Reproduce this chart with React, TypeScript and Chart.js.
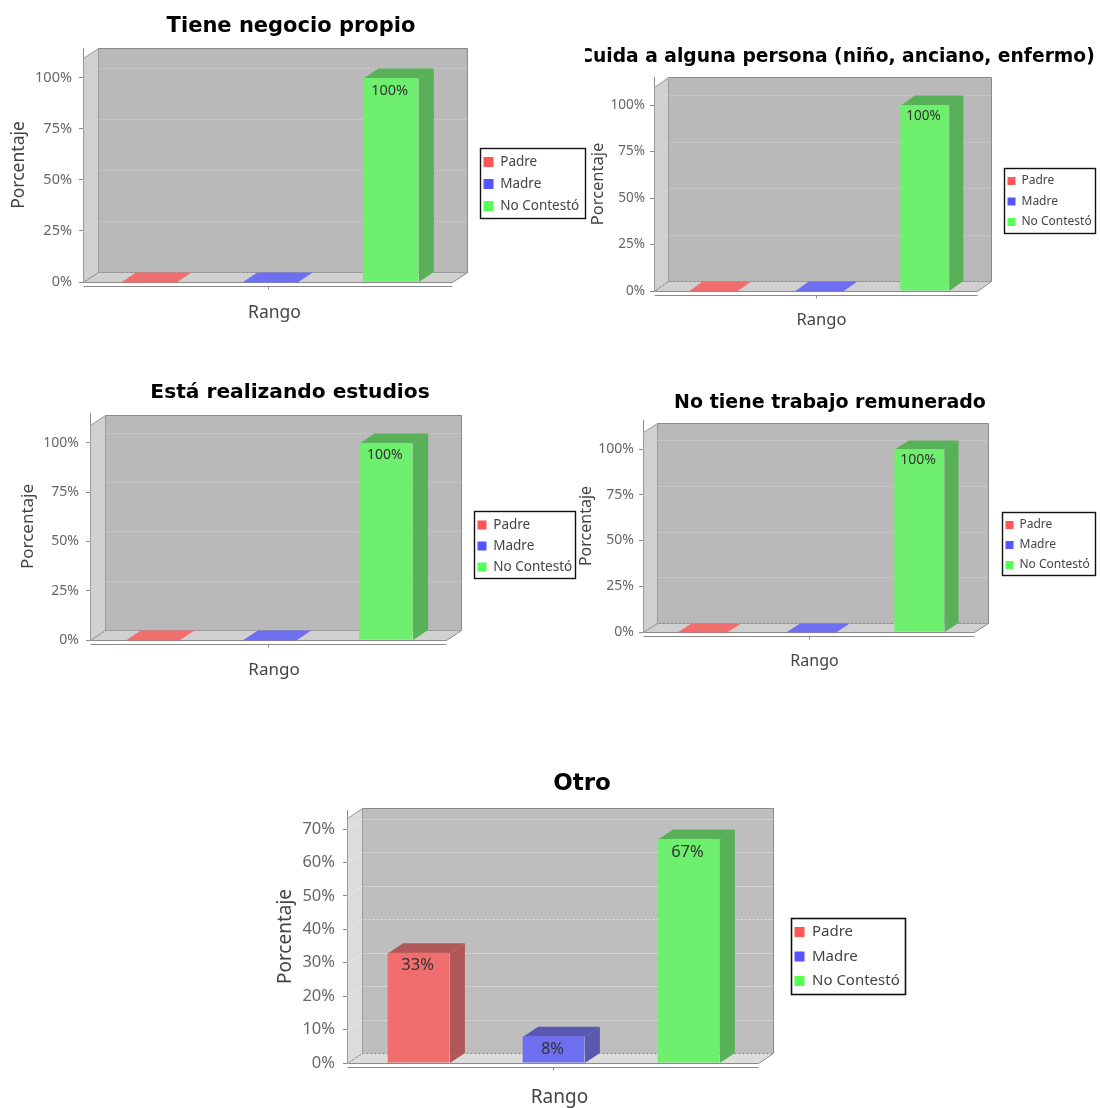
import React, { useEffect, useRef } from "react";
import { Chart, registerables } from "chart.js";

Chart.register(...registerables);

const categories = ["Rango"];
const chartTitles = [
  "Tiene negocio propio",
  "Cuida a alguna persona (niño, anciano, enfermo)",
  "Está realizando estudios",
  "No tiene trabajo remunerado",
  "Otro",
];
const seriesNames = ["Padre", "Madre", "No Contestó"];
const padreValues = [0, 0, 0, 0, 33];
const madreValues = [0, 0, 0, 0, 8];
const noContestoValues = [100, 100, 100, 100, 67];
const yMaxima = [109.8, 109.7, 109.1, 109.3, 73.3];
const yTickSteps = [25, 25, 25, 25, 10];

const barFaceColors = ["#F06E6E", "#6E6EF0", "#6EF06E"];
const barSideColors = ["#B05858", "#5858B0", "#58B058"];
const barTopColors = ["#B05858", "#5858B0", "#58B058"];
const legendColors = ["#FF5555", "#5555FF", "#55FF55"];

const FONT = "'Noto Sans', sans-serif";
const TITLE_FONT = "'DejaVu Sans', sans-serif";

const panels = [
  { cx: -5, cy: 0, cw: 592, ch: 340, clip: 0, L: 83, R: 452, top: 58, y0: 282, dx: 15, dy: 10, titleY: 27, titleSize: 21, labelX: 19, labelSize: 17.5, rangoY: 313, tick: 14.5, tickPad: 7, labelDrop: 13, barShift: 2, grid: 0.3, wall: "#B9B9B9", side: "#D0D0D0", legend: { x: 480.5, y: 148.5, w: 105, h: 70, row0: 162, gap: 22, font: 13.5, box: 10, lw: 1.4 }, shiftX: 7, shiftY: -5, blur: 0.6 },
  { cx: 574, cy: 0, cw: 526, ch: 340, clip: 11, L: 654, R: 977, top: 87, y0: 291, dx: 14, dy: 10, titleY: 57, titleSize: 18.7, labelX: 598, labelSize: 16.5, rangoY: 320, tick: 13.5, tickPad: 5, labelDrop: 11, barShift: 3, grid: 0.3, wall: "#B9B9B9", side: "#D0D0D0", legend: { x: 1004.5, y: 168.5, w: 91, h: 65, row0: 181, gap: 20.5, font: 12, box: 8, lw: 1.4 }, shiftX: 6, shiftY: -5, blur: 0.6 },
  { cx: 0, cy: 360, cw: 580, ch: 330, clip: 0, L: 90, R: 446, top: 425, y0: 640, dx: 15, dy: 10, titleY: 393, titleSize: 20.2, labelX: 28, labelSize: 17, rangoY: 670, tick: 14, tickPad: 7, labelDrop: 12, barShift: 1, grid: 0.3, wall: "#B9B9B9", side: "#D0D0D0", legend: { x: 474.5, y: 511.5, w: 101, h: 67, row0: 525, gap: 21, font: 13.5, box: 9, lw: 1.4 }, shiftX: 6, shiftY: -6, blur: 0.6 },
  { cx: 562, cy: 370, cw: 536, ch: 310, clip: 0, L: 643, R: 974, top: 432, y0: 632, dx: 14, dy: 9, titleY: 403, titleSize: 19, labelX: 586, labelSize: 16, rangoY: 661, tick: 14, tickPad: 5, labelDrop: 11, barShift: 2, grid: 0.3, wall: "#B9B9B9", side: "#D0D0D0", legend: { x: 1002.5, y: 512.5, w: 93, h: 63, row0: 525, gap: 20, font: 12, box: 8, lw: 1.4 }, shiftX: 6, shiftY: -6, blur: 0.6 },
  { cx: 250, cy: 750, cw: 664, ch: 358, clip: 0, L: 347, R: 758, top: 818, y0: 1063, dx: 15, dy: 10, titleY: 784, titleSize: 23, labelX: 286, labelSize: 19, rangoY: 1098, tick: 16.5, tickPad: 8, labelDrop: 13, barShift: 1, grid: 0.65, wall: "#BEBEBE", side: "#DCDCDC", legend: { x: 791.5, y: 918.5, w: 114, h: 76, row0: 932, gap: 24.5, font: 15, box: 10, lw: 1.6 }, shiftX: 7, shiftY: -4, blur: 0.35 },
];

type Panel = (typeof panels)[number];

const polygon = (ctx: CanvasRenderingContext2D, pts: number[][], fill: string | null, stroke: string | null) => {
  ctx.beginPath();
  pts.forEach(([x, y], i) => (i ? ctx.lineTo(x, y) : ctx.moveTo(x, y)));
  ctx.closePath();
  if (fill) {
    ctx.fillStyle = fill;
    ctx.fill();
  }
  if (stroke) {
    ctx.strokeStyle = stroke;
    ctx.lineWidth = 1;
    ctx.stroke();
  }
};

const makeScenePlugin = (p: Panel) => ({
  id: "scene3d",
  afterLayout(chart: any) {
    const lg = chart.legend;
    const f = p.legend;
    const pad = lg.options.labels.padding;
    const w = lg.width;
    const h = lg.height;
    lg.left = f.x - p.cx + 3 - pad;
    lg.right = lg.left + w;
    lg.top = f.row0 - p.cy - f.font / 2 - pad;
    lg.bottom = lg.top + h;
    const { x, y } = chart.scales;
    x.right += p.shiftX * 2;
    y.top += p.shiftY * 2;
    x._startPixel += p.barShift;
    // the title is centred on the whole canvas, not on the plot
    chart.titleBlock.left = 0;
    chart.titleBlock.right = p.cw;
  },
  beforeDatasetsDraw(chart: any) {
    const { ctx, chartArea: a, scales } = chart;
    const { dx, dy } = p;
    const bottomBack = a.bottom - dy;
    const topBack = a.top - dy;
    ctx.save();
    ctx.translate(0.5, 0.5);
    polygon(ctx, [[a.left + dx, topBack], [a.right + dx, topBack], [a.right + dx, bottomBack], [a.left + dx, bottomBack]], p.wall, "#8A8A8A");
    polygon(ctx, [[a.left, a.top], [a.left + dx, topBack], [a.left + dx, bottomBack], [a.left, a.bottom]], p.side, "#9A9A9A");
    polygon(ctx, [[a.left, a.bottom], [a.left + dx, bottomBack], [a.right + dx, bottomBack], [a.right, a.bottom]], p.side, "#8A8A8A");
    ctx.strokeStyle = `rgba(255,255,255,${p.grid})`;
    ctx.lineWidth = 1;
    ctx.setLineDash([2, 2]);
    scales.y.ticks.forEach((t: any) => {
      const py = Math.round(scales.y.getPixelForValue(t.value));
      ctx.beginPath();
      ctx.moveTo(a.left, py);
      ctx.lineTo(a.left + dx, py - dy);
      ctx.lineTo(a.right + dx, py - dy);
      ctx.stroke();
    });
    ctx.setLineDash([]);
    // category axis runs just below the floor
    ctx.strokeStyle = "#8A8A8A";
    ctx.beginPath();
    ctx.moveTo(a.left, a.bottom + 4);
    ctx.lineTo(a.right, a.bottom + 4);
    const mid = Math.round((a.left + a.right) / 2);
    ctx.moveTo(mid, a.bottom + 4);
    ctx.lineTo(mid, a.bottom + 7);
    ctx.stroke();
    // side and top faces of every bar
    chart.data.datasets.forEach((ds: any, i: number) => {
      chart.getDatasetMeta(i).data.forEach((bar: any, j: number) => {
        const l = bar.x - bar.width / 2;
        const r = bar.x + bar.width / 2;
        const flat = !ds.data[j];
        polygon(ctx, [[r, bar.y], [r + dx, bar.y - dy], [r + dx, bar.base - dy], [r, bar.base]], barSideColors[i], null);
        polygon(ctx, [[l, bar.y], [l + dx, bar.y - dy], [r + dx, bar.y - dy], [r, bar.y]], flat ? barFaceColors[i] : barTopColors[i], null);
      });
    });
    ctx.restore();
  },
  afterDatasetsDraw(chart: any) {
    const { ctx } = chart;
    ctx.save();
    ctx.font = `${p.tick}px ${FONT}`;
    ctx.textAlign = "center";
    ctx.textBaseline = "middle";
    ctx.fillStyle = "#333333";
    chart.data.datasets.forEach((ds: any, i: number) => {
      const v = ds.data[0];
      if (!v) return;
      const bar = chart.getDatasetMeta(i).data[0];
      ctx.fillText(`${v}%`, bar.x - 1, bar.y + p.labelDrop);
    });
    ctx.restore();
  },
  afterDraw(chart: any) {
    const { ctx } = chart;
    const f = p.legend;
    ctx.save();
    ctx.strokeStyle = "#111111";
    ctx.lineWidth = f.lw;
    ctx.strokeRect(f.x - p.cx, f.y - p.cy, f.w, f.h);
    ctx.restore();
  },
});

function ChartPanel({ index }: { index: number }) {
  const ref = useRef<HTMLCanvasElement>(null);
  const p = panels[index];
  useEffect(() => {
    const series = [padreValues, madreValues, noContestoValues];
    const titleTop = p.titleY - p.titleSize / 2 - p.cy;
    const labelLine = p.labelSize * 1.2;
    const chart = new Chart(ref.current!, {
      type: "bar",
      data: {
        labels: categories,
        datasets: seriesNames.map((name, i) => ({
          label: name,
          data: [series[i][index]],
          backgroundColor: barFaceColors[i],
          borderWidth: 0,
          categoryPercentage: 0.985,
          barPercentage: 0.4575,
        })),
      },
      options: {
        animation: false,
        responsive: false,
        layout: { padding: { left: 0, top: 0, bottom: 0, right: p.cw - (p.R - p.cx) } },
        plugins: {
          tooltip: { enabled: false },
          title: {
            display: true,
            text: chartTitles[index],
            color: "#000000",
            font: { family: TITLE_FONT, size: p.titleSize, weight: "bold", lineHeight: 1 },
            padding: { top: titleTop, bottom: p.top - p.cy - titleTop - p.titleSize },
          },
          legend: {
            position: "chartArea",
            align: "start",
            labels: {
              color: "#444444",
              font: { family: FONT, size: p.legend.font },
              boxWidth: p.legend.box,
              boxHeight: p.legend.box,
              padding: p.legend.gap - p.legend.font,
              generateLabels: (c: any) =>
                Chart.defaults.plugins.legend.labels
                  .generateLabels(c)
                  .map((l: any, i: number) => ({ ...l, fillStyle: legendColors[i], lineWidth: 0 })),
            },
          },
        },
        scales: {
          x: {
            grid: { display: false },
            border: { display: false },
            ticks: { display: false },
            title: {
              display: true,
              text: "Rango",
              color: "#444444",
              font: { family: FONT, size: p.labelSize, lineHeight: 1.2 },
              padding: { top: 0, bottom: p.cy + p.ch - p.rangoY - labelLine / 2 },
            },
            afterFit: (s: any) => {
              s.height = p.cy + p.ch - p.y0;
            },
          },
          y: {
            min: 0,
            max: yMaxima[index],
            grid: { drawOnChartArea: false, drawTicks: true, tickLength: 4, color: "#8A8A8A" },
            border: { display: true, color: "#8A8A8A" },
            ticks: {
              stepSize: yTickSteps[index],
              includeBounds: false,
              padding: p.tickPad,
              color: "#666666",
              font: { family: FONT, size: p.tick },
              callback: (v: any) => `${v}%`,
            },
            title: {
              display: true,
              text: "Porcentaje",
              color: "#444444",
              font: { family: FONT, size: p.labelSize, lineHeight: 1.2 },
              padding: { top: p.labelX - p.cx - labelLine / 2, bottom: 0 },
            },
            afterFit: (s: any) => {
              s.width = p.L - p.cx;
            },
          },
        },
      } as any,
      plugins: [makeScenePlugin(p)],
    });
    return () => chart.destroy();
  }, []);
  return (
    <canvas
      ref={ref}
      width={p.cw}
      height={p.ch}
      style={{
        position: "absolute",
        left: p.cx,
        top: p.cy,
        width: p.cw,
        height: p.ch,
        clipPath: p.clip ? `inset(0 0 0 ${p.clip}px)` : undefined,
        filter: `blur(${p.blur}px)`,
      }}
    />
  );
}

export default function App() {
  return (
    <div style={{ position: "absolute", left: 0, top: 0, width: 1100, height: 1108, overflow: "hidden", background: "#FFFFFF" }}>
      {panels.map((_, i) => (
        <ChartPanel key={i} index={i} />
      ))}
    </div>
  );
}
